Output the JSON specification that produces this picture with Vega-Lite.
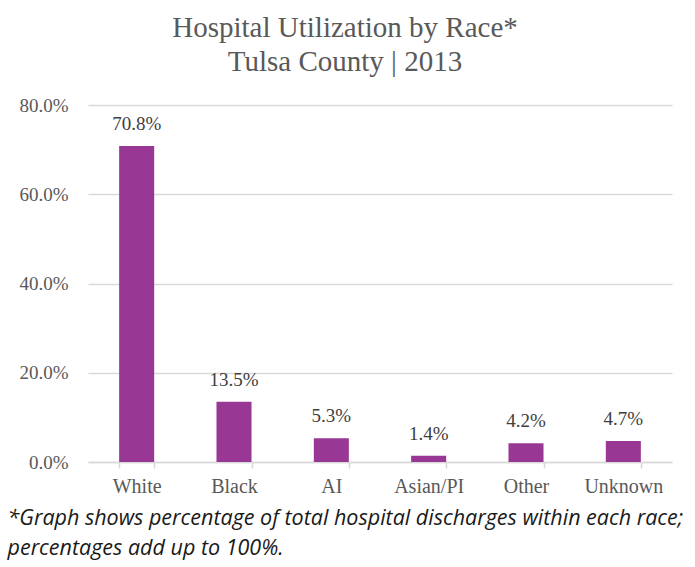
{
  "$schema": "https://vega.github.io/schema/vega-lite/v6.json",
  "width": 584,
  "height": 357,
  "autosize": {"type": "none"},
  "padding": {"left": 88, "top": 105, "right": 23, "bottom": 105},
  "background": "white",
  "title": {
    "text": ["Hospital Utilization by Race*", "Tulsa County | 2013"],
    "font": "Liberation Serif, serif",
    "fontSize": 29,
    "fontWeight": "normal",
    "color": "#595959",
    "lineHeight": 34,
    "anchor": "middle",
    "dx": -35,
    "offset": 19
  },
  "data": {
    "values": [
      {"race": "White", "share": 0.708},
      {"race": "Black", "share": 0.135},
      {"race": "AI", "share": 0.053},
      {"race": "Asian/PI", "share": 0.014},
      {"race": "Other", "share": 0.042},
      {"race": "Unknown", "share": 0.047}
    ]
  },
  "encoding": {
    "x": {
      "field": "race",
      "type": "nominal",
      "sort": null,
      "scale": {"paddingInner": 0.64, "paddingOuter": 0.32},
      "axis": {
        "title": ["*Graph shows percentage of total hospital discharges within each race;", "percentages add up to 100%."],
        "titleFont": "Open Sans, sans-serif",
        "titleFontStyle": "italic",
        "titleFontWeight": "normal",
        "titleFontSize": 21.5,
        "titleColor": "#1a1a1a",
        "titleAnchor": "start",
        "titleAlign": "left",
        "titleBaseline": "top",
        "titleX": -81,
        "titleY": 45,
        "titleLineHeight": 30,
        "labelAngle": 0,
        "labelFont": "Liberation Serif, serif",
        "labelFontSize": 20,
        "labelColor": "#595959",
        "labelPadding": 8,
        "tickBand": "extent",
        "tickColor": "#d9d9d9",
        "tickSize": 6,
        "tickWidth": 1.5,
        "domainColor": "#d9d9d9",
        "domainWidth": 1.5,
        "grid": false
      }
    },
    "y": {
      "field": "share",
      "type": "quantitative",
      "scale": {"domain": [0, 0.8]},
      "axis": {
        "title": null,
        "values": [0, 0.2, 0.4, 0.6, 0.8],
        "format": ".1%",
        "labelFont": "Liberation Serif, serif",
        "labelFontSize": 19,
        "labelColor": "#595959",
        "labelPadding": 20,
        "ticks": false,
        "domain": false,
        "gridColor": "#d9d9d9",
        "gridWidth": 1.5
      }
    }
  },
  "layer": [
    {"mark": {"type": "bar", "color": "#993894"}},
    {
      "mark": {
        "type": "text",
        "baseline": "bottom",
        "dy": -12,
        "font": "Liberation Serif, serif",
        "fontSize": 19,
        "color": "#404040"
      },
      "encoding": {"text": {"field": "share", "type": "quantitative", "format": ".1%"}}
    }
  ],
  "config": {"view": {"stroke": null}}
}
